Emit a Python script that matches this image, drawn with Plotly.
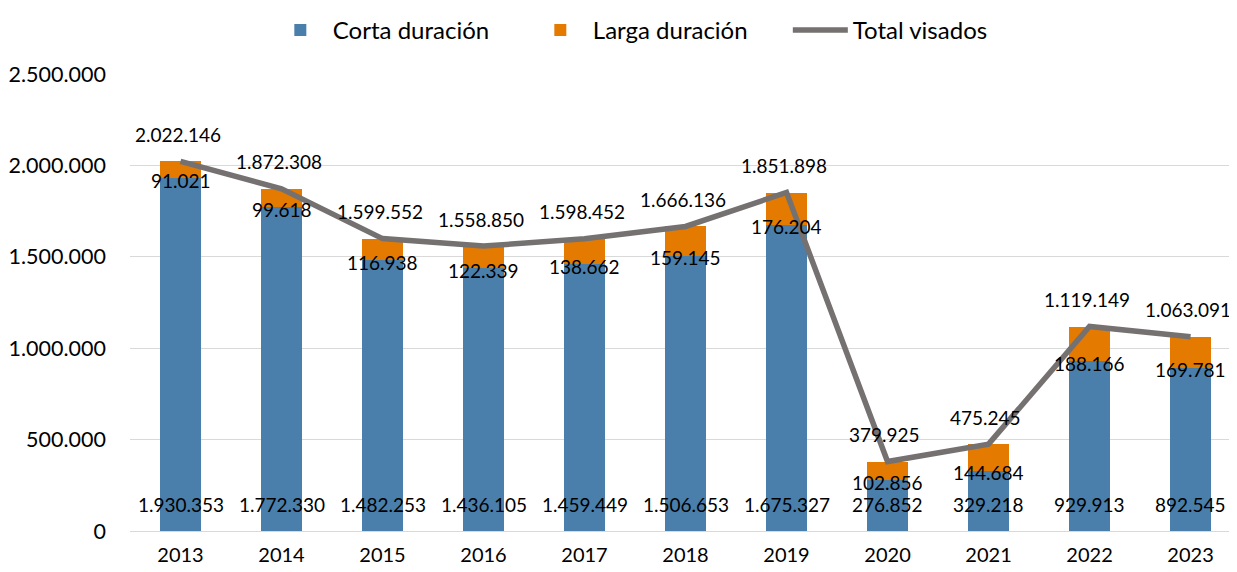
import plotly.graph_objects as go

years = ["2013", "2014", "2015", "2016", "2017", "2018", "2019", "2020", "2021", "2022", "2023"]
corta = [1930353, 1772330, 1482253, 1436105, 1459449, 1506653, 1675327, 276852, 329218, 929913, 892545]
larga = [91021, 99618, 116938, 122339, 138662, 159145, 176204, 102856, 144684, 188166, 169781]
total = [2022146, 1872308, 1599552, 1558850, 1598452, 1666136, 1851898, 379925, 475245, 1119149, 1063091]

BLUE = "#4a7eab"
ORANGE = "#e47b00"
GRAY = "#767171"
FONT = "Lato"


def fmt(v):
    return f"{v:,}".replace(",", ".")


fig = go.Figure()
fig.add_trace(go.Bar(x=years, y=corta, name="Corta duración", marker_color=BLUE,
                     marker_line_width=0, hoverinfo="skip"))
fig.add_trace(go.Bar(x=years, y=larga, name="Larga duración", marker_color=ORANGE,
                     marker_line_width=0, hoverinfo="skip"))
fig.add_trace(go.Scatter(x=years, y=total, name="Total visados", mode="lines",
                         line=dict(color=GRAY, width=5.5), hoverinfo="skip"))

ann = []
lab_font = dict(family=FONT, size=19, color="#000000")
for i, yr in enumerate(years):
    # category axis: annotation x is the category index
    ann.append(dict(x=i, y=0, xref="x", yref="y", text=fmt(corta[i]), showarrow=False,
                    yshift=27, yanchor="middle", font=lab_font))
    ann.append(dict(x=i, y=corta[i], xref="x", yref="y", text=fmt(larga[i]), showarrow=False,
                    yshift=-2, yanchor="middle", font=lab_font))
    ann.append(dict(x=i, y=total[i], xref="x", yref="y", text=fmt(total[i]), showarrow=False,
                    yshift=27, xshift=-3, yanchor="middle", font=lab_font))

# page body has an 8px default margin; the figure is sized to fit the window
fig.update_layout(
    width=1229, height=564,
    barmode="stack", bargap=0.6,
    separators=",.",
    plot_bgcolor="white", paper_bgcolor="white",
    margin=dict(l=122, r=0, t=66, b=41, autoexpand=False),
    font=dict(family=FONT, size=21, color="#000000"),
    legend=dict(orientation="h", x=0.1245, xanchor="left", y=1.0, yanchor="top",
                yref="container", font=dict(size=24), itemwidth=55, entrywidth=190,
                traceorder="normal"),
    annotations=ann,
    xaxis=dict(type="category", range=[-0.5, 10.46], showgrid=False, showline=True,
               linecolor="#d9d9d9", linewidth=1, ticks="", ticklabelstandoff=6,
               tickfont=dict(size=20)),
    yaxis=dict(range=[0, 2500000], dtick=500000, tickformat=",d", showgrid=True,
               gridcolor="#d9d9d9", gridwidth=1, zeroline=False, showline=False,
               ticks="", ticklabelstandoff=23, tickfont=dict(size=21.5)),
)

fig.write_html("out.html")
